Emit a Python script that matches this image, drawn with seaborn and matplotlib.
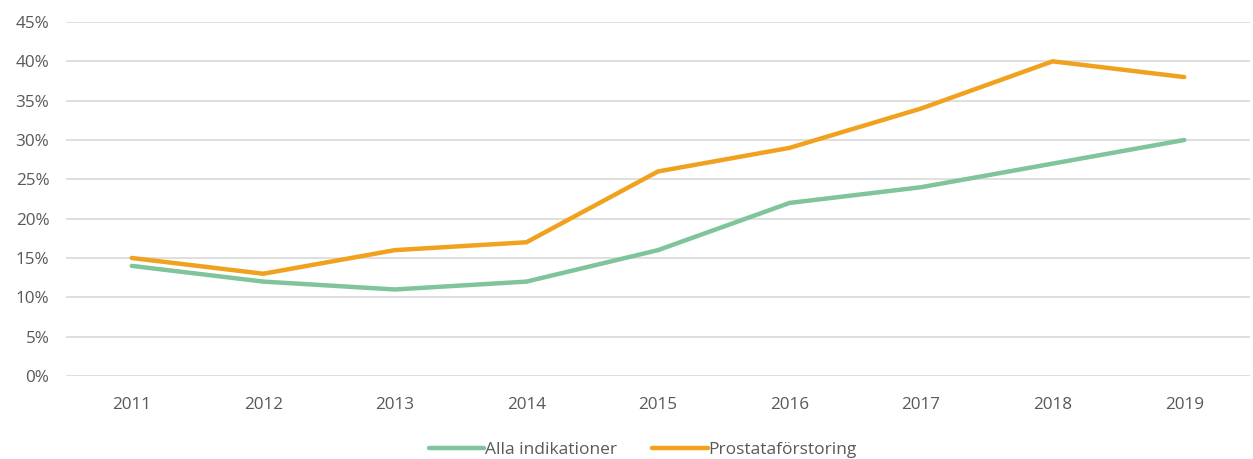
import matplotlib.pyplot as plt
import pandas as pd
import seaborn as sns
from matplotlib.ticker import PercentFormatter

# Data
years = [2011, 2012, 2013, 2014, 2015, 2016, 2017, 2018, 2019]
alla = [14, 12, 11, 12, 16, 22, 24, 27, 30]
prostata = [15, 13, 16, 17, 26, 29, 34, 40, 38]
series_names = ['Alla indikationer', 'Prostataförstoring']
colors = ['#7FC49B', '#F0A11E']

df = pd.DataFrame({
    'year': years * 2,
    'value': alla + prostata,
    'serie': [series_names[0]] * len(years) + [series_names[1]] * len(years),
})

sns.set_style('white')
plt.rcParams['font.family'] = ['Open Sans', 'DejaVu Sans']

fig = plt.figure(figsize=(12.53, 4.59), dpi=100)
ax = fig.add_axes([66 / 1253, 1 - 376 / 459, (1250 - 66) / 1253, (376 - 22) / 459])

sns.lineplot(data=df, x='year', y='value', hue='serie', palette=colors,
             linewidth=3.2, ax=ax, legend=True)

ax.set_xlim(2010.5, 2019.5)
ax.set_ylim(0, 45)
ax.set_yticks(range(0, 46, 5))
ax.yaxis.set_major_formatter(PercentFormatter(decimals=0))
ax.set_xticks(years)
ax.set_xlabel('')
ax.set_ylabel('')
ax.grid(axis='y', color='#D9D9D9', linewidth=1.2)
ax.set_axisbelow(True)
for s in ax.spines.values():
    s.set_visible(False)
ax.tick_params(axis='both', length=0, labelsize=12.3, labelcolor='#595959')
ax.tick_params(axis='x', pad=15)
ax.tick_params(axis='y', pad=12)

handles, labels = ax.get_legend_handles_labels()
ax.get_legend().remove()
fig.legend(handles, labels, loc='center', bbox_to_anchor=(0.513, 0.019),
           ncol=2, frameon=False, fontsize=12.5, labelcolor='#595959',
           handlelength=3.2, handletextpad=0.05, columnspacing=2.0)

fig.savefig('out.png', dpi=100)
